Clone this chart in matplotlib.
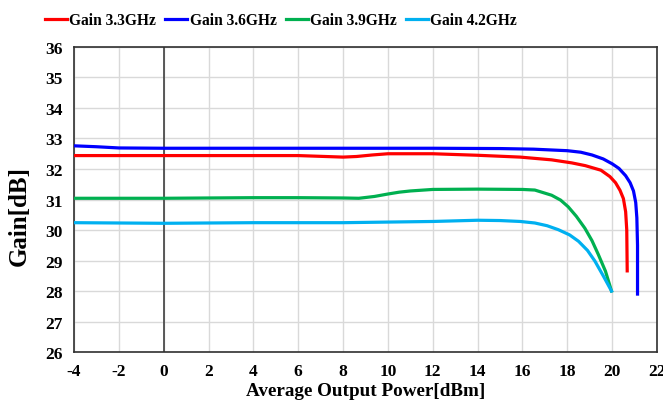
import matplotlib.pyplot as plt

# Gain vs average output power
x_33 = [-4, -2, 0, 2, 4, 6, 8, 8.6, 9.3, 10, 12, 14, 15.9, 17.3, 18.2, 18.8, 19.5, 19.9, 20.15, 20.35, 20.5, 20.6, 20.65, 20.67]
g_33 = [32.44, 32.44, 32.44, 32.44, 32.44, 32.44, 32.39, 32.41, 32.46, 32.5, 32.5, 32.45, 32.39, 32.3, 32.2, 32.11, 31.96, 31.75, 31.55, 31.3, 31.03, 30.6, 30.0, 28.66]

x_36 = [-4, -3, -2, 0, 4, 8, 12, 15, 16.5, 18.0, 18.6, 19.1, 19.6, 20.0, 20.3, 20.6, 20.8, 20.95, 21.05, 21.1, 21.13, 21.13]
g_36 = [32.76, 32.73, 32.69, 32.68, 32.68, 32.68, 32.68, 32.67, 32.65, 32.6, 32.55, 32.46, 32.33, 32.17, 32.02, 31.78, 31.55, 31.28, 30.9, 30.4, 29.5, 27.9]

x_39 = [-4, -2, 0, 2, 4, 6, 8, 8.7, 9.4, 10, 10.5, 11, 12, 14, 16, 16.55, 17.3, 17.7, 18.04, 18.4, 18.78, 19.1, 19.38, 19.7, 19.97]
g_39 = [31.04, 31.04, 31.04, 31.05, 31.06, 31.06, 31.05, 31.04, 31.1, 31.18, 31.24, 31.28, 31.33, 31.34, 31.33, 31.31, 31.14, 30.98, 30.76, 30.45, 30.06, 29.65, 29.2, 28.65, 28.0]

x_42 = [-4, -2, 0, 2, 4, 6, 8, 10, 12, 14, 15, 15.9, 16.55, 17.1, 17.6, 18.1, 18.5, 18.9, 19.23, 19.6, 19.97]
g_42 = [30.24, 30.23, 30.22, 30.23, 30.24, 30.24, 30.24, 30.26, 30.28, 30.32, 30.31, 30.28, 30.23, 30.14, 30.01, 29.84, 29.63, 29.33, 28.98, 28.5, 28.0]

series = [
    ('Gain 3.3GHz', x_33, g_33, '#ff0000'),
    ('Gain 3.6GHz', x_36, g_36, '#0000ff'),
    ('Gain 3.9GHz', x_39, g_39, '#00b050'),
    ('Gain 4.2GHz', x_42, g_42, '#00b0f0'),
]

x_ticks = list(range(-4, 23, 2))
y_ticks = list(range(26, 37))

plt.rcParams['font.family'] = ['Liberation Serif', 'DejaVu Serif']
plt.rcParams['font.weight'] = 'bold'
plt.rcParams['axes.unicode_minus'] = False

fig = plt.figure(figsize=(6.63, 4.06), dpi=100)
ax = fig.add_axes([0.1116, 0.1305, 0.8794, 0.7513])

for label, xs, ys, c in series:
    ax.plot(xs, ys, color=c, lw=2.3, label=label, solid_joinstyle='round', zorder=3)

ax.set_xlim(-4, 22)
ax.set_ylim(26, 36)
ax.set_xticks(x_ticks)
ax.set_yticks(y_ticks)
ax.grid(True, color='#d9d9d9', lw=1.0, zorder=0)
ax.axvline(0, color='#404040', lw=1.2, zorder=2)
for s in ax.spines.values():
    s.set_color('#303030')
    s.set_linewidth(1.2)
ax.tick_params(length=0, labelsize=12.5, pad=8)
for t in ax.get_xticklabels() + ax.get_yticklabels():
    t.set_fontweight('bold')

ax.set_xlabel('Average Output Power[dBm]', fontsize=13.8, fontweight='bold')
ax.xaxis.set_label_coords(0.5, -0.098)
ax.set_ylabel('Gain[dB]', fontsize=18, fontweight='bold')
ax.yaxis.set_label_coords(-0.075, 0.45)

leg = fig.legend(loc='center left', bbox_to_anchor=(0.068, 0.948), ncol=4, frameon=False,
                 handlelength=1.4, handletextpad=0.15, columnspacing=0.6,
                 borderaxespad=0, borderpad=0,
                 prop={'weight': 'bold', 'size': 11.2})

fig.savefig('out.png', dpi=100)
